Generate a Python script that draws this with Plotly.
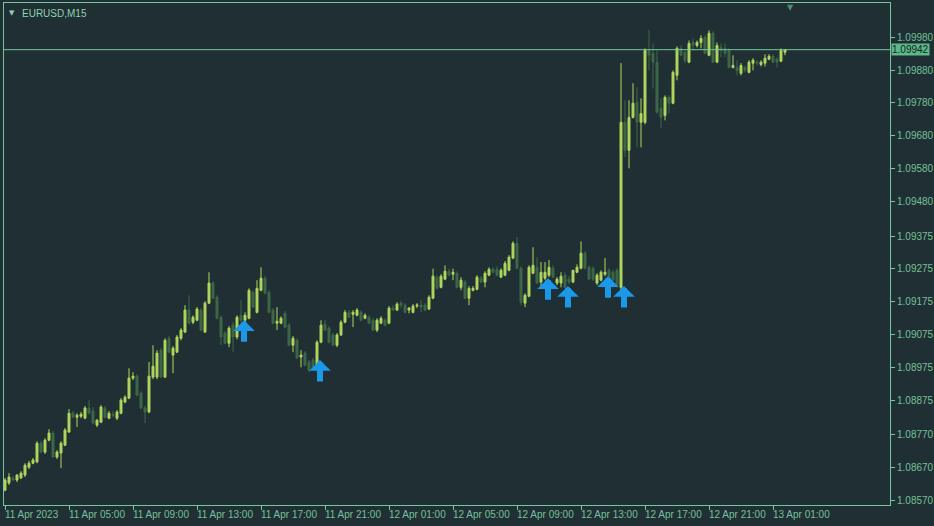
import pandas as pd
import plotly.graph_objects as go

symbol_title = "EURUSD,M15"
start_time = "2023-04-11 01:00"

opens = [1.08602,1.08624,1.08639,1.08633,1.08639,1.08648,1.08672,1.08684,1.08688,1.08745,
         1.08718,1.08754,1.08776,1.08703,1.08715,1.08739,1.08779,1.08836,1.08824,1.08827,
         1.08821,1.08852,1.08843,1.08800,1.08809,1.08852,1.08821,1.08833,1.08821,1.08836,
         1.08870,1.08882,1.08943,1.08949,1.08897,1.08852,1.08840,1.08946,1.08946,1.09028,
         1.08946,1.09064,1.09013,1.09022,1.09064,1.09083,1.09150,1.09113,1.09119,1.09150,
         1.09083,1.09171,1.09232,1.09189,1.09128,1.09080,1.09049,1.09104,1.09068,1.09134,
         1.09119,1.09125,1.09204,1.09143,1.09210,1.09247,1.09204,1.09150,1.09110,1.09110,
         1.09140,1.09104,1.09043,1.09058,1.09007,1.09019,1.08992,1.08998,1.08982,1.09052,
         1.09107,1.09095,1.09074,1.09043,1.09074,1.09113,1.09143,1.09137,1.09134,1.09143,
         1.09125,1.09128,1.09119,1.09089,1.09110,1.09119,1.09110,1.09156,1.09150,1.09171,
         1.09165,1.09150,1.09143,1.09162,1.09165,1.09165,1.09153,1.09186,1.09250,1.09219,
         1.09244,1.09268,1.09259,1.09262,1.09219,1.09235,1.09186,1.09210,1.09213,1.09247,
         1.09235,1.09256,1.09274,1.09274,1.09250,1.09256,1.09271,1.09308,1.09353,1.09277,
         1.09171,1.09192,1.09262,1.09280,1.09235,1.09247,1.09256,1.09277,1.09232,1.09232,
         1.09256,1.09244,1.09235,1.09265,1.09277,1.09323,1.09280,1.09277,1.09232,1.09241,
         1.09259,1.09271,1.09265,1.09271,1.09219,1.09721,1.09636,1.09736,1.09782,1.09721,
         1.09721,1.09940,1.09931,1.09904,1.09764,1.09742,1.09797,1.09779,1.09864,1.09946,
         1.09934,1.09904,1.09964,1.09955,1.09964,1.09980,1.09925,1.09992,1.09904,1.09949,
         1.09946,1.09940,1.09888,1.09888,1.09870,1.09888,1.09873,1.09901,1.09904,1.09897,
         1.09901,1.09913,1.09922,1.09913,1.09907,1.09934]
highs = [1.08639,1.08654,1.08645,1.08651,1.08660,1.08684,1.08691,1.08700,1.08751,1.08751,
         1.08760,1.08788,1.08782,1.08724,1.08751,1.08791,1.08849,1.08843,1.08836,1.08840,
         1.08858,1.08876,1.08855,1.08818,1.08861,1.08858,1.08843,1.08843,1.08846,1.08882,
         1.08891,1.08973,1.08961,1.08955,1.08903,1.08858,1.08992,1.09043,1.09028,1.09034,
         1.09064,1.09071,1.09040,1.09074,1.09095,1.09165,1.09195,1.09134,1.09159,1.09156,
         1.09177,1.09265,1.09238,1.09195,1.09134,1.09086,1.09101,1.09113,1.09134,1.09180,
         1.09143,1.09216,1.09210,1.09241,1.09280,1.09253,1.09210,1.09156,1.09159,1.09131,
         1.09147,1.09110,1.09071,1.09064,1.09028,1.09025,1.08998,1.09004,1.09058,1.09119,
         1.09119,1.09101,1.09080,1.09080,1.09119,1.09150,1.09150,1.09150,1.09156,1.09150,
         1.09140,1.09134,1.09125,1.09125,1.09131,1.09125,1.09162,1.09165,1.09174,1.09177,
         1.09171,1.09159,1.09168,1.09171,1.09180,1.09171,1.09195,1.09276,1.09256,1.09259,
         1.09286,1.09276,1.09276,1.09268,1.09250,1.09241,1.09223,1.09223,1.09256,1.09253,
         1.09268,1.09280,1.09280,1.09283,1.09277,1.09299,1.09317,1.09359,1.09372,1.09283,
         1.09201,1.09286,1.09341,1.09311,1.09296,1.09296,1.09302,1.09286,1.09250,1.09265,
         1.09265,1.09253,1.09271,1.09289,1.09359,1.09329,1.09286,1.09283,1.09262,1.09271,
         1.09308,1.09277,1.09271,1.09277,1.09901,1.09788,1.09788,1.09840,1.09828,1.09794,
         1.09946,1.10001,1.09961,1.09940,1.09794,1.09803,1.09803,1.09879,1.09952,1.09955,
         1.09940,1.09970,1.09976,1.09970,1.09986,1.09986,1.10001,1.09998,1.09964,1.09961,
         1.09961,1.09946,1.09925,1.09910,1.09901,1.09894,1.09910,1.09916,1.09910,1.09910,
         1.09928,1.09928,1.09928,1.09919,1.09946,1.09943]
lows = [1.08599,1.08618,1.08630,1.08627,1.08636,1.08642,1.08666,1.08681,1.08684,1.08715,
        1.08712,1.08751,1.08700,1.08697,1.08669,1.08736,1.08776,1.08821,1.08794,1.08821,
        1.08818,1.08833,1.08803,1.08794,1.08806,1.08821,1.08818,1.08824,1.08815,1.08833,
        1.08867,1.08879,1.08937,1.08888,1.08849,1.08806,1.08836,1.08940,1.08940,1.08943,
        1.08943,1.09019,1.08958,1.09019,1.09058,1.09080,1.09107,1.09107,1.09116,1.09086,
        1.09080,1.09168,1.09183,1.09122,1.09043,1.09046,1.09037,1.09022,1.09061,1.09113,
        1.09113,1.09122,1.09156,1.09140,1.09207,1.09198,1.09140,1.09107,1.09089,1.09107,
        1.09095,1.09040,1.09022,1.09001,1.08976,1.08979,1.08961,1.08967,1.08976,1.09049,
        1.09086,1.09049,1.09040,1.09037,1.09071,1.09110,1.09125,1.09098,1.09131,1.09116,
        1.09122,1.09107,1.09086,1.09083,1.09107,1.09101,1.09107,1.09147,1.09147,1.09156,
        1.09140,1.09140,1.09140,1.09156,1.09143,1.09147,1.09150,1.09183,1.09213,1.09216,
        1.09241,1.09253,1.09241,1.09216,1.09210,1.09183,1.09165,1.09207,1.09210,1.09232,
        1.09219,1.09253,1.09262,1.09253,1.09247,1.09253,1.09268,1.09305,1.09276,1.09165,
        1.09159,1.09189,1.09259,1.09229,1.09223,1.09241,1.09250,1.09247,1.09226,1.09219,
        1.09216,1.09229,1.09232,1.09262,1.09274,1.09274,1.09241,1.09238,1.09226,1.09238,
        1.09253,1.09247,1.09238,1.09219,1.09210,1.09615,1.09581,1.09733,1.09645,1.09645,
        1.09715,1.09879,1.09824,1.09748,1.09703,1.09727,1.09748,1.09776,1.09849,1.09922,
        1.09901,1.09901,1.09940,1.09949,1.09946,1.09928,1.09922,1.09901,1.09901,1.09919,
        1.09919,1.09885,1.09885,1.09864,1.09864,1.09873,1.09870,1.09879,1.09894,1.09891,
        1.09891,1.09910,1.09901,1.09888,1.09904,1.09925]
closes = [1.08633,1.08642,1.08633,1.08648,1.08654,1.08678,1.08684,1.08694,1.08745,1.08718,
          1.08754,1.08776,1.08703,1.08718,1.08745,1.08785,1.08836,1.08824,1.08830,1.08833,
          1.08852,1.08836,1.08806,1.08815,1.08855,1.08824,1.08836,1.08830,1.08840,1.08876,
          1.08885,1.08943,1.08949,1.08891,1.08852,1.08840,1.08949,1.08979,1.09019,1.08946,
          1.09058,1.09022,1.09034,1.09068,1.09089,1.09150,1.09110,1.09128,1.09153,1.09089,
          1.09171,1.09232,1.09186,1.09125,1.09068,1.09049,1.09095,1.09068,1.09128,1.09119,
          1.09134,1.09210,1.09159,1.09216,1.09247,1.09201,1.09143,1.09110,1.09116,1.09125,
          1.09098,1.09043,1.09064,1.09004,1.09013,1.08982,1.08967,1.08973,1.09052,1.09104,
          1.09089,1.09052,1.09043,1.09074,1.09113,1.09143,1.09128,1.09143,1.09150,1.09119,
          1.09134,1.09110,1.09089,1.09119,1.09125,1.09104,1.09156,1.09150,1.09168,1.09165,
          1.09143,1.09156,1.09162,1.09165,1.09159,1.09150,1.09189,1.09253,1.09216,1.09253,
          1.09268,1.09256,1.09265,1.09219,1.09241,1.09186,1.09216,1.09216,1.09250,1.09235,
          1.09262,1.09274,1.09265,1.09256,1.09271,1.09292,1.09311,1.09353,1.09277,1.09174,
          1.09195,1.09280,1.09286,1.09232,1.09265,1.09265,1.09280,1.09250,1.09244,1.09253,
          1.09219,1.09235,1.09271,1.09280,1.09323,1.09277,1.09244,1.09244,1.09256,1.09265,
          1.09265,1.09250,1.09241,1.09226,1.09721,1.09636,1.09736,1.09779,1.09721,1.09748,
          1.09940,1.09925,1.09904,1.09752,1.09736,1.09797,1.09779,1.09873,1.09946,1.09925,
          1.09910,1.09961,1.09955,1.09964,1.09976,1.09931,1.09992,1.09904,1.09955,1.09940,
          1.09931,1.09888,1.09894,1.09879,1.09894,1.09879,1.09904,1.09910,1.09901,1.09904,
          1.09916,1.09922,1.09904,1.09904,1.09940,1.09942]

current_price = 1.09942
y_tick_labels = ["1.08570", "1.08670", "1.08770", "1.08875", "1.08975", "1.09075", "1.09175",
                 "1.09275", "1.09375", "1.09480", "1.09580", "1.09680", "1.09780", "1.09880",
                 "1.09980"]
x_tick_labels = ["11 Apr 2023", "11 Apr 05:00", "11 Apr 09:00", "11 Apr 13:00", "11 Apr 17:00",
                 "11 Apr 21:00", "12 Apr 01:00", "12 Apr 05:00", "12 Apr 09:00", "12 Apr 13:00",
                 "12 Apr 17:00", "12 Apr 21:00", "13 Apr 01:00"]
signal_bars = [59, 78, 135, 140, 150, 154]
signal_prices = [1.09119, 1.08998, 1.09247, 1.09223, 1.09253, 1.09223]

BG = "#202f33"
FRAME = "#74c79c"
TEXT = "#73c19a"
BULL = "#b0d65e"
BEAR = "#3d6948"
ARROW = "#1c98e8"
FONT = "Liberation Sans, Arial, sans-serif"

times = pd.date_range(start_time, periods=len(opens), freq="15min")
step = pd.Timedelta(minutes=15)
tick_times = list(times[::16][:len(x_tick_labels)])

fig = go.Figure()
fig.add_trace(go.Candlestick(
    x=times, open=opens, high=highs, low=lows, close=closes,
    increasing=dict(line=dict(color=BULL, width=1), fillcolor=BULL),
    decreasing=dict(line=dict(color=BEAR, width=1), fillcolor=BEAR),
    whiskerwidth=0, showlegend=False, hoverinfo="skip",
))

annotations = []
for lab, t in zip(x_tick_labels, tick_times):
    annotations.append(dict(x=t, y=0, xref="x", yref="paper", yanchor="top", xanchor="left",
                            yshift=-2, xshift=-2, text=lab, showarrow=False,
                            font=dict(family=FONT, size=10, color=TEXT)))
for b, p in zip(signal_bars, signal_prices):
    annotations.append(dict(x=times[b], y=p, xref="x", yref="y", text="", showarrow=True,
                            ax=0, ay=23, arrowhead=1, arrowsize=0.6, arrowwidth=6,
                            arrowcolor=ARROW, xshift=3))
annotations.append(dict(x=1, y=current_price, xref="paper", yref="y", xanchor="left",
                        yanchor="middle", xshift=1, text=f"{current_price:.5f}", showarrow=False,
                        bgcolor="#5cb98b", borderpad=0,
                        font=dict(family=FONT, size=10, color="#13201c")))
annotations.append(dict(x=0, y=1, xref="paper", yref="paper", xanchor="left", yanchor="top",
                        xshift=16, yshift=-3, text=symbol_title, showarrow=False,
                        font=dict(family=FONT, size=10, color="#8ed2b0")))
annotations.append(dict(x=0, y=1, xref="paper", yref="paper", xanchor="left", yanchor="top",
                        xshift=3, yshift=-4, text="▼", showarrow=False,
                        font=dict(family="DejaVu Sans", size=7, color="#8ed2b0")))
annotations.append(dict(x=0.888, y=1, xref="paper", yref="paper", xanchor="center", yanchor="top",
                        yshift=2, text="▼", showarrow=False,
                        font=dict(family="DejaVu Sans", size=8, color="#4f8c78")))

fig.add_shape(type="line", xref="paper", x0=0, x1=1, yref="y", y0=current_price, y1=current_price,
              line=dict(color=FRAME, width=1))

fig.update_layout(
    width=934, height=526,
    margin=dict(l=4, r=44, t=3, b=21, autoexpand=False),
    paper_bgcolor=BG, plot_bgcolor=BG,
    annotations=annotations,
    xaxis=dict(
        type="date", range=[times[0] - 0.25 * step, times[0] + 221.25 * step],
        showgrid=False, zeroline=False, rangeslider=dict(visible=False),
        showline=True, linecolor=FRAME, linewidth=1, mirror=True,
        tickmode="array", tickvals=tick_times, showticklabels=False,
        ticks="outside", ticklen=4, tickcolor=FRAME, tickwidth=1,
    ),
    yaxis=dict(
        side="right", range=[1.08557, 1.10084],
        showgrid=False, zeroline=False,
        showline=True, linecolor=FRAME, linewidth=1, mirror=True,
        tickmode="array", tickvals=[float(v) for v in y_tick_labels], ticktext=y_tick_labels,
        ticks="outside", ticklen=4, tickcolor=FRAME, tickwidth=1,
        tickfont=dict(family=FONT, size=10, color=TEXT),
    ),
    hovermode=False,
)

fig.write_html("out.html", config={"displayModeBar": False},
               post_script="document.body.style.margin='0';document.body.style.background='" + BG + "';")
